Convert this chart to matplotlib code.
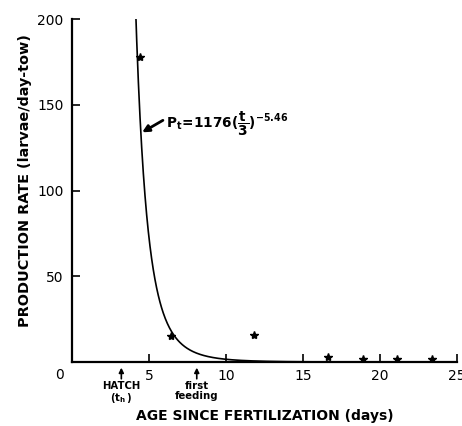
import numpy as np
import matplotlib
matplotlib.use("Agg")
import matplotlib.pyplot as plt

plt.rcParams['font.family'] = ['DejaVu Sans']
plt.rcParams['mathtext.fontset'] = 'custom'
plt.rcParams['mathtext.rm'] = 'DejaVu Sans:bold'
plt.rcParams['mathtext.it'] = 'DejaVu Sans:bold'
plt.rcParams['mathtext.bf'] = 'DejaVu Sans:bold'

age_days = [4.4, 6.4, 11.8, 16.6, 18.9, 21.1, 23.4]
production = [178, 15, 16, 3, 2, 2, 2]

# fitted model parameters
p0 = 1176
t_h = 3
exponent = -5.46

x_ticks = [5, 10, 15, 20, 25]
y_ticks = [50, 100, 150, 200]

# event markers under the axis
event_x = [3.2, 8.1]
event_labels = ['HATCH\n' + r'$\mathbf{(t_h\,)}$', 'first\nfeeding']

fig = plt.figure(figsize=(4.62, 4.26), dpi=100)
ax = fig.add_axes([0.156, 0.150, 0.833, 0.805])

t = np.linspace(3.5, 25, 800)
p = p0 * (t / t_h) ** exponent
ax.plot(t, p, color='black', lw=1.2)
ax.plot(age_days, production, linestyle='none', marker='*', color='black', ms=6)

ax.set_xlim(0, 25)
ax.set_ylim(0, 200)
ax.set_xticks(x_ticks)
ax.set_yticks(y_ticks)
ax.tick_params(axis='both', direction='in', length=6, width=1.2, labelsize=10)
ax.tick_params(axis='x', pad=5)
ax.tick_params(axis='y', pad=6)
for s in ['top', 'right']:
    ax.spines[s].set_visible(False)
for s in ['left', 'bottom']:
    ax.spines[s].set_linewidth(1.6)

ax.annotate('0', xy=(0, 0), xycoords='data', xytext=(-9, -9.5), textcoords='offset points',
            ha='center', va='center', fontsize=10, annotation_clip=False)

ax.set_ylabel('PRODUCTION RATE (larvae/day-tow)', fontsize=10.4, fontweight='bold')
ax.yaxis.set_label_coords(-0.105, 0.53)
ax.set_xlabel('AGE SINCE FERTILIZATION (days)', fontsize=10, fontweight='bold', labelpad=19)

# formula annotation
ax.annotate('', xy=(4.55, 134), xytext=(5.9, 141),
            arrowprops=dict(arrowstyle='-|>', color='black', lw=2, mutation_scale=10,
                            shrinkA=0, shrinkB=0))
ax.text(6.1, 139, r'$\mathbf{P_t\!=\!1176(\dfrac{t}{3})^{-5.46}}$',
        fontsize=9.8, fontweight='bold', va='center', ha='left')

for xe, lab in zip(event_x, event_labels):
    ax.annotate('', xy=(xe, 0), xycoords='data', xytext=(0, -12), textcoords='offset points',
                arrowprops=dict(arrowstyle='-|>', color='black', lw=1.2, mutation_scale=7,
                                shrinkA=0, shrinkB=4), annotation_clip=False)
    ax.annotate(lab, xy=(xe, 0), xycoords='data', xytext=(0, -13.5), textcoords='offset points',
                ha='center', va='top', fontsize=7.3, fontweight='bold', linespacing=1.0,
                annotation_clip=False)

fig.savefig('out.png', dpi=100)
